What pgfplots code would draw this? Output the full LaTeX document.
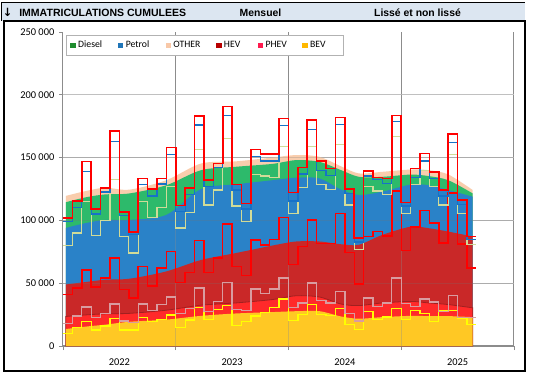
\documentclass[border=0pt]{standalone}
\usepackage{fontspec}
\setmainfont{Carlito}
\newfontfamily\arialf{Liberation Sans}
\newfontfamily\djv{DejaVu Sans}
\usepackage{pgfplots}
\usepackage{pgfplotstable}
\pgfplotsset{compat=1.18}

\definecolor{cPeach}{HTML}{F9CDAD}
\definecolor{cGreen}{HTML}{2DBA6B}
\definecolor{cBlue}{HTML}{2A82C8}
\definecolor{cDRed}{HTML}{C92828}
\definecolor{cRed}{HTML}{FF2A2A}
\definecolor{cYel}{HTML}{FFC824}
\definecolor{lDiesel}{HTML}{1E8C2E}
\definecolor{lPetrol}{HTML}{1F75B8}
\definecolor{lOther}{HTML}{F8C8A8}
\definecolor{lHEV}{HTML}{B80000}
\definecolor{lPHEV}{HTML}{FF1A4E}
\definecolor{lBEV}{HTML}{FFB800}
\definecolor{sPale}{HTML}{D0DB98}
\definecolor{sPink}{HTML}{D99CA0}
\definecolor{sBlue}{HTML}{1672C8}
\definecolor{sYel}{HTML}{FFFF00}
\definecolor{sRed}{HTML}{FF0000}
\definecolor{hdr}{HTML}{DCE6F1}
\definecolor{gridv}{HTML}{8C8C8C}
\definecolor{gridh}{HTML}{C0C0C0}

% monthly cumulative values (thousands), month 0 = Jan 2022
\pgfplotstableread{
m tot die pet hev phev bev
0 102 99 80 41 17.7 9.8
1 115.5 110.4 90 46 23.8 14.5
2 147 139 115 60.5 31 19.3
3 109 105 88 47 22.5 12.7
4 126 122.6 100 54 26 15.9
5 171 163 132.6 70 33.5 21.7
6 106.5 104 87 45 19.8 12.7
7 91 88.5 74 38.3 18.5 12.7
8 133.4 128.7 115 63.4 33.5 22.5
9 125 119.4 102.5 47.6 28.3 19.3
10 133.4 129 110.4 62 33 21
11 158 152.7 127 75.3 39 24.6
12 112 107 94 50.7 26 14.5
13 126 120.7 106.5 58.7 29.9 20.6
14 183 176 156.4 84 46.2 30.4
15 132 126.8 112.3 58.7 27.7 21.1
16 145.3 141.9 124.2 70 35.7 29
17 190.8 183.6 165 97 50.7 32.5
18 128.7 124.2 111.5 63.4 29 16.6
19 113.6 109 99 56 28.5 19.3
20 156.4 150.6 136.6 84.5 45.4 23.8
21 152.7 147.4 135.3 80.6 41.7 26.4
22 152.7 147.4 134.2 85 45.4 30.4
23 181 175.7 159 102.2 54.2 37.5
24 122.3 115.5 105.7 64.7 30.4 20.3
25 142 136.9 126.3 79.3 34.3 25.1
26 179.7 172.5 159 100.4 50.2 33
27 147.2 140 128.7 81.4 36.5 25.1
28 141.3 136 124.7 81.4 34.3 24.3
29 181.8 176.5 160.6 105.7 43.6 29.6
30 125.2 121.5 112.3 74.6 25.6 17.2
31 86.1 82.7 76.6 49.4 19.8 13.2
32 139.2 135.3 126.8 87.2 38.3 27.7
33 134.2 132.6 123.4 91.1 31.7 21.1
34 133.4 129.5 120.7 87.7 34.3 23
35 183.6 178.9 167 123.4 54.2 29.6
36 114.1 111.5 105.7 76.1 34 21
37 141.3 134.2 128.7 94.6 31.7 28.3
38 153.2 147.2 140 107.8 37.5 25.9
39 138.7 133.4 126.8 97.8 35.1 19.3
40 124.2 119.4 112.3 81.9 27.7 28.5
41 169 162 152.4 122 40.4 28.5
42 116.2 112.8 105.7 81.1 22.5 21.7
43 87.2 85 80.6 62 22.5 17.2
44 87.2 85 80.6 62 22.5 17.2
}\steps

% smoothed cumulative values (thousands)
\pgfplotstableread{
m bev phev hev pet die tot
0.3 13.5 23.5 49 94 114.5 119.5
2.5 15.5 24.8 51 98 118.5 123.5
4.5 17 25.6 52.8 100.4 120.7 126
7.1 19.3 26 53.6 100.4 121.5 124.5
11 21 28.5 59.4 104.4 128 132
14.7 24 32.5 68.5 125 140 145.3
18.4 25.9 34.3 74 128.7 142.7 147
22.3 27 37 80 132 145 150
24.8 27.7 40 83.2 134 148 152
27.3 27.7 39 83.2 133.4 146.6 150.6
29.6 23.5 33.4 81 124.5 140 143
31.5 21.7 32.2 80.6 120.2 134.7 137.4
34 23 34.3 88.5 122.9 134.7 138.7
37 24 35.5 95 128.5 136.5 140.5
38.9 23.8 34.3 93.8 128 135.3 140
41 23.8 33 91.1 124.2 132 136.6
43.6 23 30.4 87.2 118.9 121.5 124.2
}\smoothed

\begin{document}
\begin{tikzpicture}
\useasboundingbox (0,0) rectangle (399.75pt,-288.75pt);
\begin{scope}[x=0.75pt,y=-0.75pt]
\fill[white] (0,0) rectangle (533,385);
\fill[hdr] (1,3) rectangle (525,21);
\draw[black, line width=0.75pt] (1,3) -- (525,3);
\draw[black, line width=0.75pt] (1,3) -- (1,21);
\draw[black, line width=0.9pt] (4,21) rectangle (525,371);
\node[inner sep=0pt, font=\djv\bfseries\fontsize{8.5}{9}\selectfont] at (7.5,12.5) {↓};
\node[anchor=west, inner sep=0pt, font=\arialf\bfseries\fontsize{7.9}{9}\selectfont] at (19,12.5) {IMMATRICULATIONS CUMULEES};
\node[inner sep=0pt, font=\arialf\bfseries\fontsize{7.8}{9}\selectfont] at (260.5,12.5) {Mensuel};
\node[inner sep=0pt, font=\arialf\bfseries\fontsize{7.8}{9}\selectfont] at (417.5,12.5) {Lissé et non lissé};
\end{scope}
\begin{axis}[
  at={(47.25pt,-259.5pt)}, anchor=south west,
  scale only axis, width=338.25pt, height=235.5pt,
  xmin=0, xmax=48, ymin=0, ymax=250,
  axis x line*=bottom, axis y line*=left,
  x axis line style={draw=gridv, line width=1.3pt, -},
  y axis line style={draw=gridv, line width=0.75pt, -},
  xtick={0,12,24,36,48}, xticklabels={},
  xmajorgrids, major x grid style={draw=gridv, line width=0.75pt},
  ytick={0,50,100,150,200}, yticklabels={0,50 000,100 000,150 000,200 000},
  ymajorgrids, major y grid style={draw=gridh, line width=0.75pt},
  extra y ticks={250}, extra y tick labels={250 000}, extra y tick style={grid=none},
  extra x ticks={6,18,30,42}, extra x tick labels={2022,2023,2024,2025},
  extra x tick style={major tick length=0pt, grid=none, tick label style={yshift=-6pt}},
  tick align=outside, major tick length=3pt,
  tick style={draw=gridv, line width=0.6pt},
  ticklabel style={font=\fontsize{7.8}{9}\selectfont, text=black},
  legend columns=6,
  legend cell align=left,
  legend style={at={(axis description cs:0.0067,0.99)}, anchor=north west,
    draw=gray!60, line width=0.5pt, fill=white,
    font=\fontsize{7.3}{8.5}\selectfont,
    /tikz/every even column/.append style={column sep=0pt}},
]
\addlegendimage{legend image code/.code={\fill[lDiesel] (0pt,-1.7pt) rectangle (3.4pt,1.7pt);}}
\addlegendentry{\makebox[27.8pt][l]{Diesel}}
\addlegendimage{legend image code/.code={\fill[lPetrol] (0pt,-1.7pt) rectangle (3.4pt,1.7pt);}}
\addlegendentry{\makebox[27.8pt][l]{Petrol}}
\addlegendimage{legend image code/.code={\fill[lOther] (0pt,-1.7pt) rectangle (3.4pt,1.7pt);}}
\addlegendentry{\makebox[30pt][l]{OTHER}}
\addlegendimage{legend image code/.code={\fill[lHEV] (0pt,-1.7pt) rectangle (3.4pt,1.7pt);}}
\addlegendentry{\makebox[23.3pt][l]{HEV}}
\addlegendimage{legend image code/.code={\fill[lPHEV] (0pt,-1.7pt) rectangle (3.4pt,1.7pt);}}
\addlegendentry{\makebox[25.5pt][l]{PHEV}}
\addlegendimage{legend image code/.code={\fill[lBEV] (0pt,-1.7pt) rectangle (3.4pt,1.7pt);}}
\addlegendentry{\makebox[20pt][l]{BEV}}

% smoothed stacked areas (cumulative boundaries)
\addplot[forget plot, fill=cPeach, draw=none, smooth] table[x=m,y=tot]{\smoothed} \closedcycle;
\addplot[forget plot, fill=cGreen, draw=none, smooth] table[x=m,y=die]{\smoothed} \closedcycle;
\addplot[forget plot, fill=cBlue, draw=none, smooth] table[x=m,y=pet]{\smoothed} \closedcycle;
\addplot[forget plot, fill=cDRed, draw=none, smooth] table[x=m,y=hev]{\smoothed} \closedcycle;
\addplot[forget plot, draw=cDRed!80!black, line width=0.6pt, fill=cRed, smooth] table[x=m,y=phev]{\smoothed} \closedcycle;
\addplot[forget plot, fill=cYel, draw=none, smooth] table[x=m,y=bev]{\smoothed} \closedcycle;

% faint grid showing through
\draw[gridv, opacity=0.35, line width=0.75pt] (axis cs:12,0) -- (axis cs:12,250) (axis cs:24,0) -- (axis cs:24,250) (axis cs:36,0) -- (axis cs:36,250);
\draw[gridh!60!black, opacity=0.25, line width=0.75pt] (axis cs:0,50) -- (axis cs:48,50) (axis cs:0,100) -- (axis cs:48,100) (axis cs:0,150) -- (axis cs:48,150);

% monthly (unsmoothed) steps
\addplot[forget plot, const plot, draw=sYel, line width=0.95pt] table[x=m,y=bev]{\steps};
\addplot[forget plot, const plot, draw=sPink, line width=0.95pt] table[x=m,y=phev]{\steps};
\addplot[forget plot, const plot, draw=sRed, line width=1.1pt] table[x=m,y=hev]{\steps};
\addplot[forget plot, const plot, draw=sPale, line width=0.95pt] table[x=m,y=pet]{\steps};
\addplot[forget plot, const plot, draw=sBlue, line width=0.95pt] table[x=m,y=die]{\steps};
\addplot[forget plot, const plot, draw=sRed, line width=1.2pt] table[x=m,y=tot]{\steps};
\end{axis}
\end{tikzpicture}
\end{document}
